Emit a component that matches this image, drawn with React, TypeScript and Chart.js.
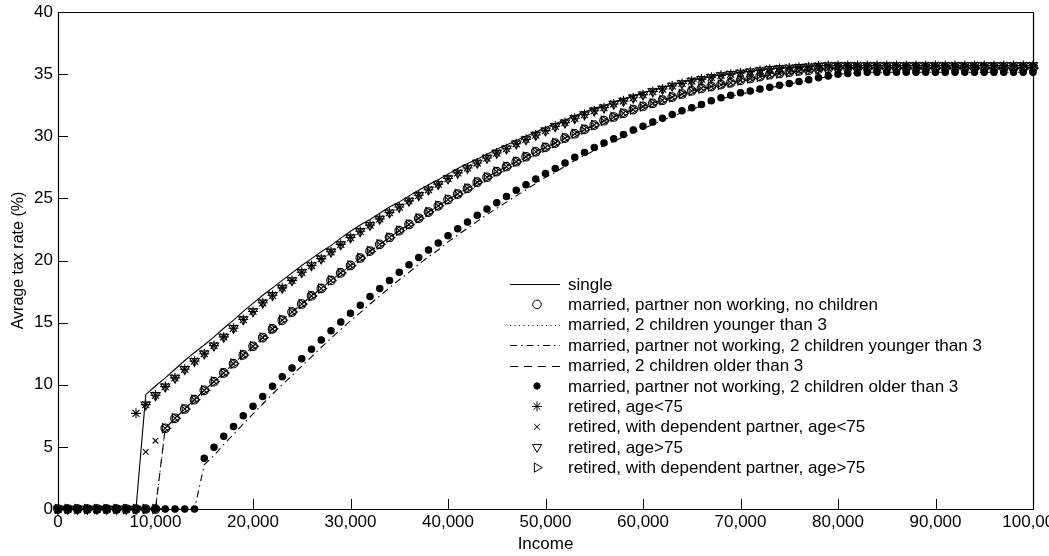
import React, { useEffect, useRef } from 'react';
import { Chart, registerables } from 'chart.js';
import { drawPoint } from 'chart.js/helpers';

Chart.register(...registerables);

// Gross income, in thousands (one observation every 1,000)
const incomeThousands = [
  0, 1, 2, 3, 4, 5, 6, 7, 8, 9,
  10, 11, 12, 13, 14, 15, 16, 17, 18, 19,
  20, 21, 22, 23, 24, 25, 26, 27, 28, 29,
  30, 31, 32, 33, 34, 35, 36, 37, 38, 39,
  40, 41, 42, 43, 44, 45, 46, 47, 48, 49,
  50, 51, 52, 53, 54, 55, 56, 57, 58, 59,
  60, 61, 62, 63, 64, 65, 66, 67, 68, 69,
  70, 71, 72, 73, 74, 75, 76, 77, 78, 79,
  80, 81, 82, 83, 84, 85, 86, 87, 88, 89,
  90, 91, 92, 93, 94, 95, 96, 97, 98, 99,
  100,
];

// Average tax rate (%) per household type
const singleRate = [
  0, 0, 0, 0, 0, 0, 0, 0, 0, 9.2,
  9.9, 10.55, 11.25, 11.95, 12.6, 13.2, 13.85, 14.55, 15.2, 15.9,
  16.55, 17.2, 17.8, 18.4, 19.0, 19.6, 20.15, 20.7, 21.2, 21.8,
  22.35, 22.85, 23.3, 23.8, 24.3, 24.7, 25.2, 25.65, 26.1, 26.5,
  26.95, 27.4, 27.8, 28.15, 28.55, 28.95, 29.3, 29.65, 30.0, 30.35,
  30.7, 31.0, 31.3, 31.65, 31.95, 32.25, 32.45, 32.75, 33.0, 33.25,
  33.5, 33.7, 33.9, 34.15, 34.35, 34.55, 34.65, 34.8, 34.95, 35.05,
  35.15, 35.25, 35.35, 35.45, 35.5, 35.55, 35.6, 35.65, 35.7, 35.7,
  35.7, 35.7, 35.7, 35.7, 35.7, 35.7, 35.7, 35.7, 35.7, 35.7,
  35.7, 35.7, 35.7, 35.7, 35.7, 35.7, 35.7, 35.7, 35.7, 35.7,
  35.7,
];

const retiredUnder75Rate = [
  0, 0, 0, 0, 0, 0, 0, 0, 7.7, 8.4,
  9.15, 9.85, 10.55, 11.25, 11.9, 12.5, 13.15, 13.85, 14.55, 15.25,
  15.9, 16.6, 17.2, 17.8, 18.4, 19.05, 19.6, 20.15, 20.7, 21.3,
  21.85, 22.35, 22.85, 23.35, 23.85, 24.3, 24.8, 25.25, 25.7, 26.15,
  26.6, 27.05, 27.45, 27.85, 28.25, 28.65, 29.0, 29.4, 29.75, 30.1,
  30.45, 30.8, 31.1, 31.45, 31.75, 32.05, 32.3, 32.6, 32.85, 33.1,
  33.35, 33.6, 33.8, 34.05, 34.25, 34.45, 34.6, 34.75, 34.9, 35.0,
  35.1, 35.2, 35.3, 35.4, 35.45, 35.5, 35.55, 35.6, 35.65, 35.7,
  35.7, 35.7, 35.7, 35.7, 35.7, 35.7, 35.7, 35.7, 35.7, 35.7,
  35.7, 35.7, 35.7, 35.7, 35.7, 35.7, 35.7, 35.7, 35.7, 35.7,
  35.7,
];

const retiredOver75Rate = [
  0, 0, 0, 0, 0, 0, 0, 0, 0, 8.4,
  9.15, 9.85, 10.55, 11.25, 11.9, 12.5, 13.15, 13.85, 14.55, 15.25,
  15.9, 16.6, 17.2, 17.8, 18.4, 19.05, 19.6, 20.15, 20.7, 21.3,
  21.85, 22.35, 22.85, 23.35, 23.85, 24.3, 24.8, 25.25, 25.7, 26.15,
  26.6, 27.05, 27.45, 27.85, 28.25, 28.65, 29.0, 29.4, 29.75, 30.1,
  30.45, 30.8, 31.1, 31.45, 31.75, 32.05, 32.3, 32.6, 32.85, 33.1,
  33.35, 33.6, 33.8, 34.05, 34.25, 34.45, 34.6, 34.75, 34.9, 35.0,
  35.1, 35.2, 35.3, 35.4, 35.45, 35.5, 35.55, 35.6, 35.65, 35.7,
  35.7, 35.7, 35.7, 35.7, 35.7, 35.7, 35.7, 35.7, 35.7, 35.7,
  35.7, 35.7, 35.7, 35.7, 35.7, 35.7, 35.7, 35.7, 35.7, 35.7,
  35.7,
];

const marriedNoChildrenRate = [
  0, 0, 0, 0, 0, 0, 0, 0, 0, 0,
  0, 6.5, 7.3, 8.05, 8.8, 9.55, 10.25, 10.95, 11.7, 12.4,
  13.1, 13.8, 14.5, 15.2, 15.85, 16.5, 17.15, 17.75, 18.4, 19.0,
  19.6, 20.2, 20.75, 21.3, 21.85, 22.4, 22.9, 23.4, 23.9, 24.4,
  24.9, 25.35, 25.8, 26.3, 26.7, 27.15, 27.55, 27.95, 28.35, 28.75,
  29.1, 29.45, 29.85, 30.2, 30.55, 30.9, 31.25, 31.55, 31.85, 32.15,
  32.4, 32.65, 32.9, 33.15, 33.4, 33.65, 33.85, 34.0, 34.15, 34.3,
  34.5, 34.65, 34.8, 34.95, 35.05, 35.15, 35.25, 35.3, 35.4, 35.45,
  35.5, 35.5, 35.5, 35.5, 35.5, 35.5, 35.5, 35.5, 35.5, 35.5,
  35.5, 35.5, 35.5, 35.5, 35.5, 35.5, 35.5, 35.5, 35.5, 35.5,
  35.5,
];

const retiredPartnerUnder75Rate = [
  0, 0, 0, 0, 0, 0, 0, 0, 0, 4.6,
  5.5, 6.5, 7.3, 8.05, 8.8, 9.55, 10.25, 10.95, 11.7, 12.4,
  13.1, 13.8, 14.5, 15.2, 15.85, 16.5, 17.15, 17.75, 18.4, 19.0,
  19.6, 20.2, 20.75, 21.3, 21.85, 22.4, 22.9, 23.4, 23.9, 24.4,
  24.9, 25.35, 25.8, 26.3, 26.7, 27.15, 27.55, 27.95, 28.35, 28.75,
  29.1, 29.45, 29.85, 30.2, 30.55, 30.9, 31.25, 31.55, 31.85, 32.15,
  32.4, 32.65, 32.9, 33.15, 33.4, 33.65, 33.85, 34.0, 34.15, 34.3,
  34.5, 34.65, 34.8, 34.95, 35.05, 35.15, 35.25, 35.3, 35.4, 35.45,
  35.5, 35.5, 35.5, 35.5, 35.5, 35.5, 35.5, 35.5, 35.5, 35.5,
  35.5, 35.5, 35.5, 35.5, 35.5, 35.5, 35.5, 35.5, 35.5, 35.5,
  35.5,
];

const partnerNotWorkingKidsOlderRate = [
  0, 0, 0, 0, 0, 0, 0, 0, 0, 0,
  0, 0, 0, 0, 0, 4.08, 4.96, 5.85, 6.63, 7.5,
  8.27, 9.05, 9.87, 10.65, 11.35, 12.1, 12.85, 13.6, 14.35, 15.05,
  15.75, 16.4, 17.1, 17.75, 18.4, 19.05, 19.65, 20.25, 20.85, 21.4,
  22.0, 22.55, 23.1, 23.65, 24.15, 24.65, 25.15, 25.65, 26.1, 26.55,
  27.0, 27.4, 27.85, 28.3, 28.7, 29.1, 29.45, 29.8, 30.15, 30.5,
  30.8, 31.15, 31.45, 31.75, 32.05, 32.3, 32.55, 32.85, 33.1, 33.3,
  33.5, 33.65, 33.8, 33.95, 34.1, 34.25, 34.4, 34.55, 34.7, 34.85,
  35.0, 35.05, 35.1, 35.15, 35.15, 35.15, 35.15, 35.15, 35.15, 35.15,
  35.15, 35.15, 35.15, 35.15, 35.15, 35.15, 35.15, 35.15, 35.15, 35.15,
  35.15,
];

const partnerNotWorkingKidsYoungerRate = [
  0, 0, 0, 0, 0, 0, 0, 0, 0, 0,
  0, 0, 0, 0, 0, 3.55, 4.3, 5.2, 6.0, 6.85,
  7.65, 8.45, 9.25, 10.0, 10.75, 11.5, 12.25, 13.0, 13.75, 14.45,
  15.15, 15.8, 16.5, 17.15, 17.8, 18.45, 19.05, 19.7, 20.3, 20.85,
  21.5, 22.05, 22.6, 23.15, 23.7, 24.2, 24.7, 25.2, 25.7, 26.2,
  26.7, 27.1, 27.6, 28.05, 28.45, 28.85, 29.25, 29.6, 29.95, 30.3,
  30.6, 30.95, 31.3, 31.6, 31.9, 32.15, 32.45, 32.75, 33.0, 33.2,
  33.4, 33.55, 33.75, 33.9, 34.05, 34.2, 34.35, 34.5, 34.65, 34.8,
  35.0, 35.05, 35.1, 35.15, 35.15, 35.15, 35.15, 35.15, 35.15, 35.15,
  35.15, 35.15, 35.15, 35.15, 35.15, 35.15, 35.15, 35.15, 35.15, 35.15,
  35.15,
];

// Two-earner couples and retirees with a dependent partner over 75 follow
// the same schedule as a married couple with a non-working partner.
const marriedKidsYoungerRate = marriedNoChildrenRate;
const marriedKidsOlderRate = marriedNoChildrenRate;
const retiredPartnerOver75Rate = marriedNoChildrenRate;

const seriesLabels = [
  'single',
  'married, partner non working, no children',
  'married, 2 children younger than 3',
  'married, partner not working, 2 children younger than 3',
  'married, 2 children older than 3',
  'married, partner not working, 2 children older than 3',
  'retired, age<75',
  'retired, with dependent partner, age<75',
  'retired, age>75',
  'retired, with dependent partner, age>75',
];

const xTitle = 'Income';
const yTitle = 'Avrage tax rate (%)';

const FONT = "'Liberation Sans', Arial, Helvetica, sans-serif";
const INK = '#000000';

type Marker = { style: string; radius: number; rotation?: number; filled?: boolean };
type Series = { label: string; values: number[]; dash: number[] | null; marker: Marker | null };

const series: Series[] = [
  { label: seriesLabels[0], values: singleRate, dash: [], marker: null },
  { label: seriesLabels[1], values: marriedNoChildrenRate, dash: null, marker: { style: 'circle', radius: 4.3 } },
  { label: seriesLabels[2], values: marriedKidsYoungerRate, dash: [1, 3.5], marker: null },
  { label: seriesLabels[3], values: partnerNotWorkingKidsYoungerRate, dash: [7, 4, 1.5, 4], marker: null },
  { label: seriesLabels[4], values: marriedKidsOlderRate, dash: [8, 6], marker: null },
  { label: seriesLabels[5], values: partnerNotWorkingKidsOlderRate, dash: null, marker: { style: 'circle', radius: 3.2, filled: true } },
  { label: seriesLabels[6], values: retiredUnder75Rate, dash: null, marker: { style: 'star', radius: 5 } },
  { label: seriesLabels[7], values: retiredPartnerUnder75Rate, dash: null, marker: { style: 'crossRot', radius: 4 } },
  { label: seriesLabels[8], values: retiredOver75Rate, dash: null, marker: { style: 'triangle', radius: 5.3, rotation: 180 } },
  { label: seriesLabels[9], values: retiredPartnerOver75Rate, dash: null, marker: { style: 'triangle', radius: 5.3, rotation: 90 } },
];

// Plot frame with inward-pointing ticks on the bottom and left axes
const framePlugin = {
  id: 'frame',
  beforeDatasetsDraw(chart: any) {
    const { ctx, chartArea: a, scales } = chart;
    ctx.save();
    ctx.strokeStyle = INK;
    ctx.lineWidth = 1.2;
    ctx.beginPath();
    ctx.rect(Math.round(a.left) + 0.5, Math.round(a.top) + 0.5, Math.round(a.right - a.left), Math.round(a.bottom - a.top));
    ctx.stroke();
    ctx.lineWidth = 1;
    ctx.beginPath();
    scales.x.ticks.forEach((t: any) => {
      const px = Math.round(scales.x.getPixelForValue(t.value)) + 0.5;
      ctx.moveTo(px, a.bottom);
      ctx.lineTo(px, a.bottom - 10);
    });
    scales.y.ticks.forEach((t: any) => {
      const py = Math.round(scales.y.getPixelForValue(t.value)) + 0.5;
      ctx.moveTo(a.left, py);
      ctx.lineTo(a.left + 10, py);
    });
    ctx.stroke();
    ctx.restore();
  },
};

// Legend drawn inside the plot, without a box
const legendPlugin = {
  id: 'insideLegend',
  afterDraw(chart: any) {
    const { ctx } = chart;
    const top = 284;
    const step = 20.4;
    const sampleLeft = 510;
    const sampleRight = 560;
    const textLeft = 568;
    ctx.save();
    ctx.font = `17px ${FONT}`;
    ctx.textBaseline = 'middle';
    ctx.textAlign = 'left';
    series.forEach((s, i) => {
      const y = top + i * step;
      ctx.strokeStyle = INK;
      ctx.fillStyle = INK;
      ctx.lineWidth = 1;
      if (s.dash) {
        ctx.setLineDash(s.dash);
        ctx.beginPath();
        ctx.moveTo(sampleLeft, Math.round(y) + 0.5);
        ctx.lineTo(sampleRight, Math.round(y) + 0.5);
        ctx.stroke();
        ctx.setLineDash([]);
      }
      if (s.marker) {
        ctx.fillStyle = s.marker.filled ? INK : 'rgba(0,0,0,0)';
        drawPoint(ctx, {
          pointStyle: s.marker.style as any,
          rotation: s.marker.rotation || 0,
          radius: s.marker.radius,
          borderWidth: 1,
        }, 537, y);
      }
      ctx.fillStyle = INK;
      ctx.fillText(s.label, textLeft, y + 1);
    });
    ctx.restore();
  },
};

export default function App() {
  const canvasRef = useRef<HTMLCanvasElement | null>(null);

  useEffect(() => {
    const canvas = canvasRef.current;
    if (!canvas) return;

    const datasets = series.map((s) => ({
      label: s.label,
      data: incomeThousands.map((k, i) => ({ x: k * 1000, y: s.values[i] })),
      showLine: !!s.dash,
      borderColor: INK,
      borderWidth: 1.1,
      borderDash: s.dash || [],
      backgroundColor: 'rgba(0,0,0,0)',
      fill: false,
      tension: 0,
      pointStyle: (s.marker ? s.marker.style : 'circle') as any,
      pointRadius: s.marker ? s.marker.radius : 0,
      pointHoverRadius: s.marker ? s.marker.radius : 0,
      pointRotation: s.marker && s.marker.rotation ? s.marker.rotation : 0,
      pointBackgroundColor: s.marker && s.marker.filled ? INK : 'rgba(0,0,0,0)',
      pointBorderColor: INK,
      pointBorderWidth: 1.1,
      clip: false as any,
    }));

    const tickFont = { family: FONT, size: 17 };

    const chart = new Chart(canvas, {
      type: 'line',
      data: { datasets },
      plugins: [framePlugin, legendPlugin],
      options: {
        animation: false,
        responsive: false,
        maintainAspectRatio: false,
        events: [],
        layout: { padding: { top: 12, right: 16, left: 0, bottom: 0 } },
        plugins: {
          legend: { display: false },
          tooltip: { enabled: false },
        },
        scales: {
          x: {
            type: 'linear',
            min: 0,
            max: 100000,
            grid: { display: false, drawTicks: false },
            border: { display: false },
            ticks: {
              stepSize: 10000,
              autoSkip: false,
              maxRotation: 0,
              padding: 3,
              color: INK,
              font: tickFont,
              callback: (v: any) => Number(v).toLocaleString('en-US'),
            },
            title: {
              display: true,
              text: xTitle,
              color: INK,
              font: tickFont,
              padding: { top: 0, bottom: 1 },
            },
            afterFit: (s: any) => {
              s.height = 47;
              s.paddingLeft = 0;
              s.paddingRight = 0;
            },
          },
          y: {
            type: 'linear',
            min: 0,
            max: 40,
            grid: { display: false, drawTicks: false },
            border: { display: false },
            ticks: {
              stepSize: 5,
              padding: 5,
              color: INK,
              font: tickFont,
            },
            title: {
              display: true,
              text: yTitle,
              color: INK,
              font: { family: FONT, size: 16 },
              padding: { top: 9, bottom: 0 },
            },
            afterFit: (s: any) => {
              s.width = 58;
              s.paddingTop = 0;
              s.paddingBottom = 0;
            },
          },
        },
      } as any,
    });

    return () => chart.destroy();
  }, []);

  return (
    <div style={{ position: 'fixed', left: 0, top: 0, width: 1049, height: 556, background: '#fff' }}>
      <canvas ref={canvasRef} width={1049} height={556} style={{ display: 'block' }} />
    </div>
  );
}
